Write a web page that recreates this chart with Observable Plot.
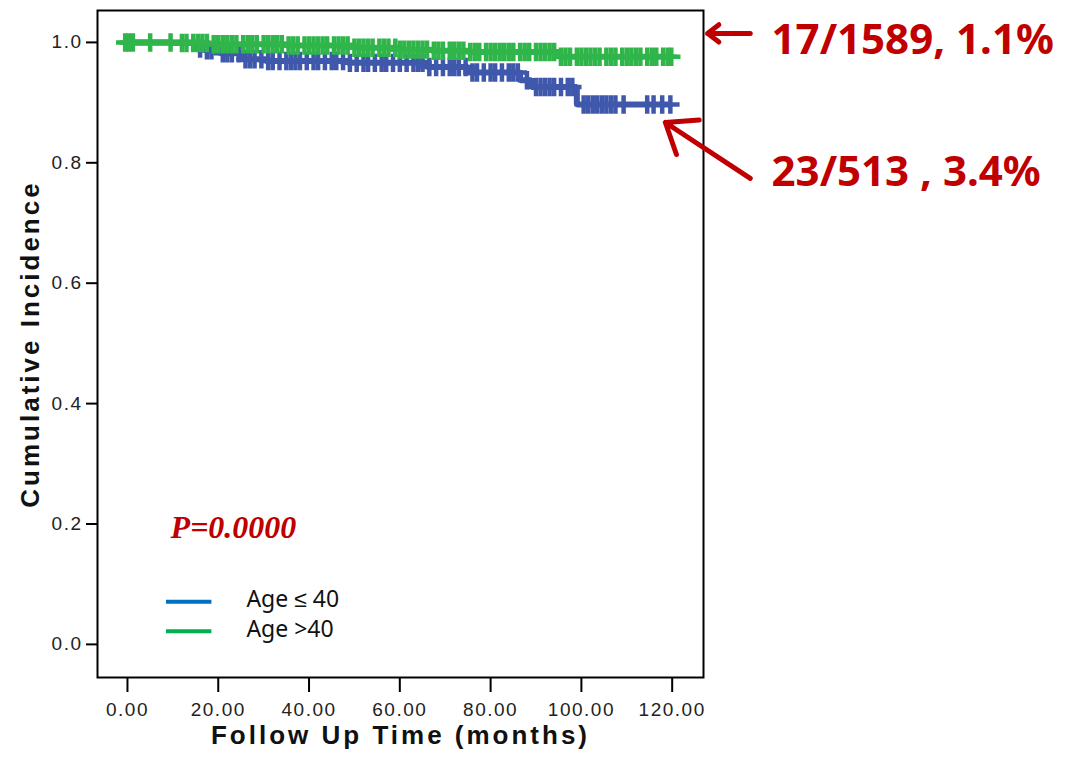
<!DOCTYPE html>
<html>
<head>
<meta charset="utf-8">
<script src="https://cdn.jsdelivr.net/npm/d3@7"></script>
<script src="https://cdn.jsdelivr.net/npm/@observablehq/plot@0.6"></script>
<style>
  html, body { margin: 0; padding: 0; background: #fff; }
  #chart svg { display: block; }
</style>
</head>
<body>
<div id="chart"></div>
<script>
// Kaplan–Meier style step curves (cumulative incidence, shown as survival-type curve)
const groups = ["Age ≤ 40", "Age >40"];

// Age ≤ 40: step times (months) and curve values
const youngTime = [0, 15, 17, 20.5, 25, 30.5, 48.5, 66, 75, 86.5, 89, 99, 119.6];
const youngValue = [1, 0.990, 0.987, 0.982, 0.972, 0.969, 0.966, 0.959, 0.950, 0.937, 0.926, 0.897, 0.897];
// Age ≤ 40: censored observations (months)
const youngCensor = [16, 17.5, 18.5, 21, 22, 23, 24.5, 26, 27, 28, 29.5, 31, 32, 33.5, 35, 36, 37, 38, 39.5, 41, 42, 43.5,
  45, 46, 47.5, 49, 50.5, 52, 53, 54.5, 56, 57, 58.5, 60, 61.5, 63, 64, 65, 66.5, 68, 69.5, 71, 72, 73, 74.5,
  76, 77, 78.5, 80, 81, 82.5, 84, 85, 86, 88, 90, 91, 92, 93, 94, 95.5, 97, 98,
  100.5, 101.5, 102.5, 103.5, 104.5, 105.5, 106.5, 107.5, 109.3, 114.5, 115.9, 117.8, 119.6];

// Age > 40: step times (months) and curve values
const oldTime = [0, 10, 18, 35, 50, 60, 67, 75, 95, 119.8];
const oldValue = [1, 0.999, 0.997, 0.995, 0.991, 0.988, 0.986, 0.984, 0.976, 0.976];
// Age > 40: censored observations (months)
const oldCensor = [-0.5, 0.3, 1.2, 5, 9.5, 12, 13, 14.5, 15.5, 16.5, 17.5, 19, 20, 21, 22, 23, 24, 25.5, 26.5, 27.5,
  28.5, 30, 31, 32, 33, 34, 35.5, 36.5, 37.5, 39, 40, 41, 42, 43, 44, 45.5, 46.5, 47.5, 48.5, 50, 51, 52, 53,
  54, 55.5, 56.5, 57.5, 59, 60, 61, 62, 63, 64, 65, 66, 67.5, 68.5, 69.5, 71, 72, 73, 74, 75.5, 76.5, 77.5,
  79, 80, 81, 82, 83, 84, 85, 86.5, 87.5, 88.5, 90, 91, 92, 93, 94, 95.5, 96.5, 97.5, 99, 100, 101, 102,
  103, 104, 105.5, 106.5, 107.5, 109, 110, 111, 112, 113, 114.5, 115.5, 116.5, 118, 119, 119.8];

// Annotation texts
const pText = "P=0.0000";
const countLabels = ["23/513 , 3.4%", "17/1589, 1.1%"];

const xTicks = [0, 20, 40, 60, 80, 100, 120];
const yTicks = [0, 0.2, 0.4, 0.6, 0.8, 1.0];

const curveColors = ["#3f58ac", "#30b54b"];
const legendColors = ["#0070c0", "#00b050"];
const red = "#c00000";

// value of a step curve at time t
function stepAt(times, values, t) {
  let v = values[0];
  for (let i = 0; i < times.length; i++) if (times[i] <= t) v = values[i];
  return v;
}

const curves = [
  ...youngTime.map((t, i) => ({group: groups[0], time: t, value: youngValue[i]})),
  ...oldTime.map((t, i) => ({group: groups[1], time: t, value: oldValue[i]}))
];
const censors = [
  ...youngCensor.map(t => ({group: groups[0], time: t, value: stepAt(youngTime, youngValue, t)})),
  ...oldCensor.map(t => ({group: groups[1], time: t, value: stepAt(oldTime, oldValue, t)}))
];

const youngEnd = {time: youngTime[youngTime.length - 1], value: youngValue[youngValue.length - 1]};
const oldEnd = {time: oldTime[oldTime.length - 1], value: oldValue[oldValue.length - 1]};

const legendRows = groups.map((g, i) => ({group: g, y: [0.071, 0.022][i]}));

const sans = "'Liberation Sans', Arial, sans-serif";

const chart = Plot.plot({
  width: 1065,
  height: 758,
  marginLeft: 97,
  marginRight: 362,
  marginTop: 10,
  marginBottom: 81,
  style: {fontFamily: sans, background: "#fff", overflow: "visible"},
  x: {domain: [-6.6, 126.9]},
  y: {domain: [-0.055, 1.053]},
  color: {domain: groups, range: curveColors},
  marks: [
    Plot.frame({stroke: "#000", strokeWidth: 2}),
    Plot.axisY({
      ticks: yTicks, tickFormat: d3.format(".1f"), tickSize: 11, tickPadding: 4,
      strokeWidth: 2, fontSize: 19, label: null, fill: "#222"
    }),
    Plot.axisX({
      ticks: xTicks, tickFormat: d3.format(".2f"), tickSize: 15, tickPadding: 10,
      strokeWidth: 2, fontSize: 19, label: null, fill: "#222"
    }),
    // axis titles
    Plot.text([0], {frameAnchor: "bottom", dy: 66, text: () => "Follow Up Time (months)",
      fontSize: 26, fontWeight: "bold", fill: "#111", fontFamily: sans}),
    Plot.text([0], {frameAnchor: "left", textAnchor: "middle", dx: -67, rotate: -90, text: () => "Cumulative Incidence",
      fontSize: 26, fontWeight: "bold", fill: "#111", fontFamily: sans}),
    // step curves
    Plot.line(curves, {x: "time", y: "value", z: "group", stroke: "group", curve: "step-after",
      strokeWidth: 6, strokeLinejoin: "miter", strokeLinecap: "butt"}),
    // censor marks
    Plot.dot(censors, {x: "time", y: "value", stroke: "group", symbol: "plus", r: 6, strokeWidth: 4.5}),
    // p-value
    Plot.text([pText], {x: 9.5, y: 0.194, text: d => d, textAnchor: "start", fill: red,
      fontSize: 32, fontWeight: "bold", fontStyle: "italic", fontFamily: "'Liberation Serif', 'Times New Roman', serif"}),
    // legend
    Plot.ruleY(legendRows, {x1: 8.6, x2: 18.6, y: "y", stroke: (d, i) => legendColors[i], strokeWidth: 4}),
    Plot.text(legendRows, {x: 26.2, y: "y", text: "group", textAnchor: "start", fill: "#111",
      fontSize: 23, fontFamily: "'Noto Sans', sans-serif", dy: -2}),
    // count annotations and arrows
    Plot.arrow([oldEnd], {x1: d => d.time + 17.4, y1: d => d.value + 0.039, x2: d => d.time + 8.0, y2: d => d.value + 0.039,
      stroke: red, strokeWidth: 5, headLength: 22, headAngle: 75, clip: false}),
    Plot.arrow([youngEnd], {x1: d => d.time + 17.6, y1: d => d.value - 0.123, x2: d => d.time - 1.1, y2: d => d.value - 0.03,
      stroke: red, strokeWidth: 5, headLength: 24, headAngle: 75, clip: false}),
    Plot.text([{t: countLabels[1], end: oldEnd}], {x: d => d.end.time + 22.1, y: d => d.end.value + 0.027, text: "t",
      textAnchor: "start", fill: red, fontSize: 42, fontWeight: "bold", fontFamily: "'Noto Sans', sans-serif"}),
    Plot.text([{t: countLabels[0], end: youngEnd}], {x: d => d.end.time + 22.3, y: d => d.end.value - 0.113, text: "t",
      textAnchor: "start", fill: red, fontSize: 42, fontWeight: "bold", fontFamily: "'Noto Sans', sans-serif"})
  ]
});

// widen the spacing of the tick labels and axis titles
d3.select(chart).selectAll("g[aria-label='y-axis tick label'], g[aria-label='x-axis tick label']")
  .attr("letter-spacing", "1.5px");
d3.select(chart).selectAll("g[aria-label='text']").filter((d, i) => i < 2)
  .attr("letter-spacing", "3px");

document.getElementById("chart").appendChild(chart);
</script>
</body>
</html>
